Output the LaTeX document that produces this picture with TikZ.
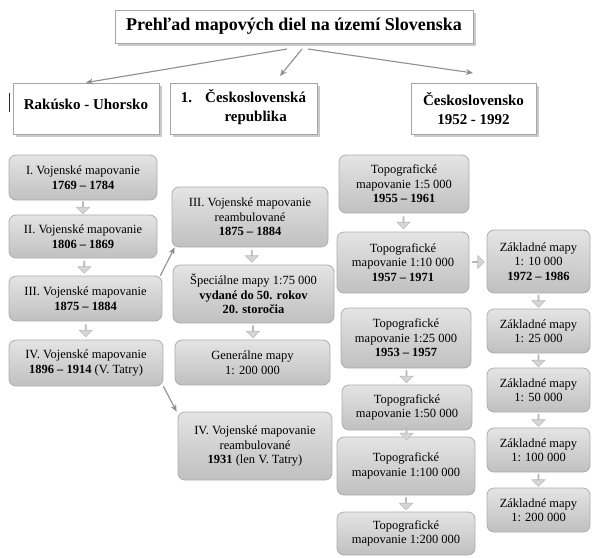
\documentclass[tikz,border=0pt]{standalone}
\usepackage{fontspec}
\setmainfont{Liberation Serif}
\usetikzlibrary{arrows.meta,shapes.arrows,shadows,calc}
\definecolor{conncol}{HTML}{8E8E8E}
\definecolor{boxtop}{HTML}{E4E4E4}
\definecolor{boxbot}{HTML}{C0C0C0}
\definecolor{boxline}{HTML}{ADADAD}
\begin{document}
\begin{tikzpicture}[x=1pt,y=-1pt,
  gbox/.style={rectangle, rounded corners=7pt, draw=boxline, line width=0.8pt,
    top color=boxtop, bottom color=boxbot, align=center,
    font=\fontsize{12.5}{14.5}\selectfont, inner sep=2pt},
  hbox/.style={rectangle, draw=gray!70, line width=0.8pt, fill=white,
    drop shadow={shadow xshift=2.5pt, shadow yshift=-2.5pt, fill=gray!75, opacity=0.55},
    font=\fontsize{15}{18.5}\selectfont\bfseries, align=center, inner sep=2pt},
  conn/.style={draw=conncol, line width=1.1pt, -{Stealth[length=7pt,width=6pt]}},
  barrow/.style={single arrow, draw=gray!55, fill=gray!32, line width=0.6pt,
    minimum width=13pt, single arrow head extend=3.5pt, minimum height=12pt,
    inner sep=0pt, shape border rotate=270},
  rarrow/.style={barrow, shape border rotate=0}
]
\useasboundingbox (0,0) rectangle (593,557);

% title and headers
\node[hbox, font=\fontsize{18}{20}\selectfont\bfseries, minimum width=358pt, minimum height=33pt]
  (title) at (294,26.5) {Prehľad mapových diel na území Slovenska};
\node[hbox, minimum width=146pt, minimum height=51pt, text height=11pt, text depth=9pt]
  (h1) at (86,108.5) {Rakúsko - Uhorsko};
\node[hbox, minimum width=147pt, minimum height=51pt]
  (h2) at (243.5,108.5) {\begin{tabular}{@{}l@{\hspace{13pt}}c@{}}1. & Československá\\ & republika\end{tabular}};
\node[hbox, minimum width=125pt, minimum height=51pt]
  (h3) at (473.5,108.5) {Československo\\1952 - 1992};
\draw[line width=0.8pt, black!85] (9,93) -- (9,112);

% connectors from title
\coordinate (s1) at (287,49);
\coordinate (s2) at (302,49);
\coordinate (e2) at (280,76);
\coordinate (s3) at (308,49);
\coordinate (e3) at (473,73);
\draw[conn] (s1) -- (h1.north);
\draw[conn] (s2) -- (e2);
\draw[conn] (s3) -- (e3);

% left column
\node[gbox, minimum width=148pt, minimum height=45pt] (L1) at (83,177.5)
  {I. Vojenské mapovanie\\\textbf{1769 – 1784}};
\node[gbox, minimum width=148pt, minimum height=43pt] (L2) at (83,236.5)
  {II. Vojenské mapovanie\\\textbf{1806 – 1869}};
\node[gbox, minimum width=153pt, minimum height=45pt] (L3) at (85.5,298.5)
  {III. Vojenské mapovanie\\\textbf{1875 – 1884}};
\node[gbox, minimum width=154pt, minimum height=46pt] (L4) at (86,363)
  {IV. Vojenské mapovanie\\\textbf{1896 – 1914} (V. Tatry)};

% middle column
\node[gbox, minimum width=156pt, minimum height=60pt] (M1) at (250,217)
  {III. Vojenské mapovanie\\reambulované\\\textbf{1875 – 1884}};
\node[gbox, minimum width=161pt, minimum height=58pt] (M2) at (253.5,294)
  {Špeciálne mapy 1:75 000\\\textbf{vydané do 50. rokov}\\\textbf{20. storočia}};
\node[gbox, minimum width=155pt, minimum height=45pt] (M3) at (252.5,362.5)
  {Generálne mapy\\1: 200 000};
\node[gbox, minimum width=154pt, minimum height=68pt] (M4) at (255,446)
  {IV. Vojenské mapovanie\\reambulované\\\textbf{1931} (len V. Tatry)};

% topographic column
\node[gbox, minimum width=130pt, minimum height=58pt] (T1) at (404,184)
  {Topografické\\mapovanie 1:5 000\\\textbf{1955 – 1961}};
\node[gbox, minimum width=132pt, minimum height=61pt] (T2) at (403,262.5)
  {Topografické\\mapovanie 1:10 000\\\textbf{1957 – 1971}};
\node[gbox, minimum width=130pt, minimum height=60pt] (T3) at (406,338)
  {Topografické\\mapovanie 1:25 000\\\textbf{1953 – 1957}};
\node[gbox, minimum width=130pt, minimum height=45pt] (T4) at (407,407.5)
  {Topografické\\mapovanie 1:50 000};
\node[gbox, minimum width=138pt, minimum height=58pt] (T5) at (406,466)
  {Topografické\\mapovanie 1:100 000};
\node[gbox, minimum width=138pt, minimum height=43pt] (T6) at (406,533.5)
  {Topografické\\mapovanie 1:200 000};

% base maps column
\node[gbox, minimum width=103pt, minimum height=63pt] (Z1) at (538.5,261.5)
  {Základné mapy\\1: 10 000\\\textbf{1972 – 1986}};
\node[gbox, minimum width=103pt, minimum height=44pt] (Z2) at (538.5,331)
  {Základné mapy\\1: 25 000};
\node[gbox, minimum width=103pt, minimum height=44pt] (Z3) at (538.5,390)
  {Základné mapy\\1: 50 000};
\node[gbox, minimum width=103pt, minimum height=44pt] (Z4) at (538.5,450)
  {Základné mapy\\1: 100 000};
\node[gbox, minimum width=103pt, minimum height=44pt] (Z5) at (538.5,510)
  {Základné mapy\\1: 200 000};

% block arrows
\foreach \a/\b in {L1/L2,L2/L3,L3/L4,M1/M2,M2/M3,T1/T2,T3/T4,T4/T5,T5/T6,Z1/Z2,Z2/Z3,Z3/Z4,Z4/Z5}
  \node[barrow] at ($(\a.south)!0.5!(\b.north)$) {};
\node[rarrow] at ($(T2.east)!0.5!(Z1.west)$) {};

% cross connectors
\draw[conn] ([xshift=-2pt]L3.north east) -- ([xshift=3pt]M1.south west);
\draw[conn] (L4.south east) -- ([xshift=-1pt]M4.north west);
\end{tikzpicture}
\end{document}
